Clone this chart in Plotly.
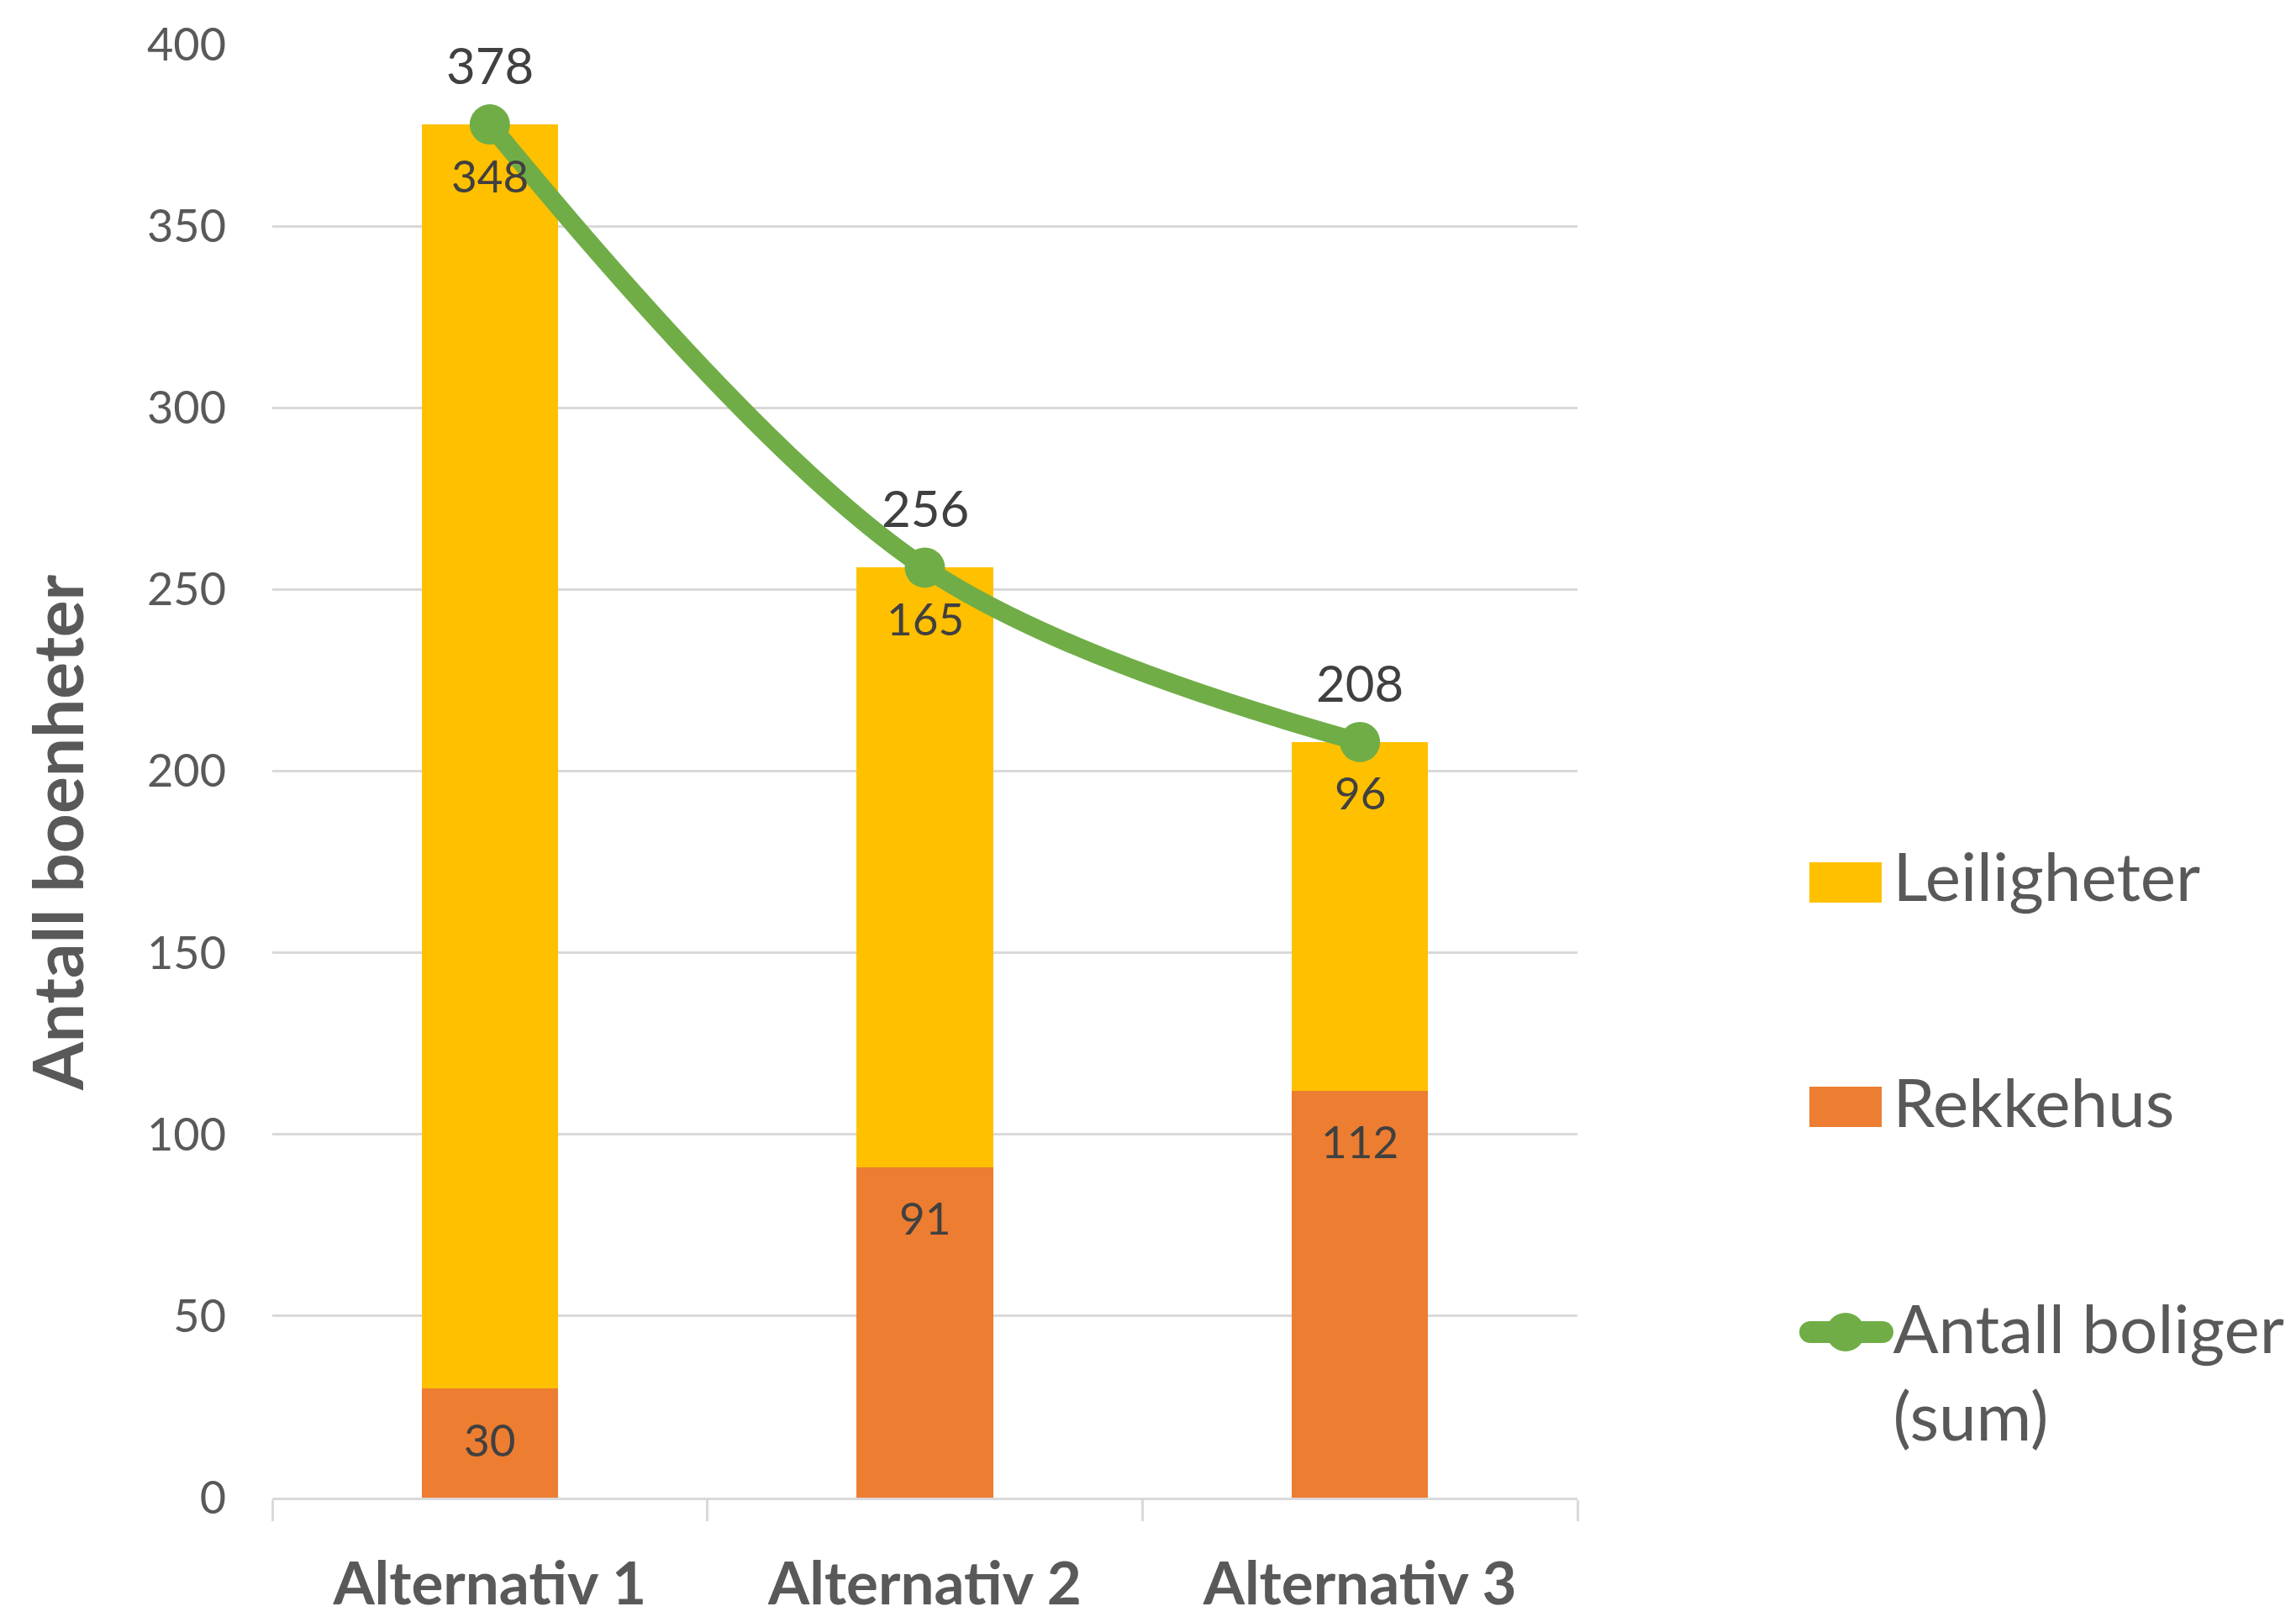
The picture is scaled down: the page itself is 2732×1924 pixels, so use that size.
import plotly.graph_objects as go

# ---- data ----
categories = ["Alternativ 1", "Alternativ 2", "Alternativ 3"]
rekkehus = [30, 91, 112]
leiligheter = [348, 165, 96]
antall_boliger = [378, 256, 208]
y_ticks = [0, 50, 100, 150, 200, 250, 300, 350, 400]
y_title = "Antall boenheter"

FONT = "Lato, Carlito, Calibri, sans-serif"
C_LEIL = "#FFC000"
C_REKK = "#ED7D31"
C_SUM = "#70AD47"

# page body adds an 8px offset, so the figure is sized to fit the window
OFF = 8
W, H = 2732 - OFF, 1924 - OFF
ML, MR, MT, MB = 324 - OFF, 855, 53 - OFF, 142
PW = W - ML - MR
PH = H - MT - MB


def px(X):  # absolute page x pixel -> paper x
    return (X - OFF - ML) / PW


def py(Y):  # absolute page y pixel -> paper y
    return (H - MB - (Y - OFF)) / PH


fig = go.Figure()
fig.add_trace(go.Bar(
    name="Rekkehus", x=categories, y=rekkehus, width=0.313,
    marker=dict(color=C_REKK, line=dict(width=0)),
    legendgroup="r", legendrank=2, hoverinfo="skip",
))
fig.add_trace(go.Bar(
    name="Leiligheter", x=categories, y=leiligheter, width=0.313,
    marker=dict(color=C_LEIL, line=dict(width=0)),
    legendgroup="l", legendrank=1, hoverinfo="skip",
))
fig.add_trace(go.Scatter(
    name="Antall boliger<br>(sum)", x=categories, y=antall_boliger,
    mode="lines+markers",
    line=dict(color=C_SUM, width=22, shape="spline", smoothing=1),
    marker=dict(color=C_SUM, size=48),
    legendgroup="s", legendrank=3, hoverinfo="skip",
))

annotations = []
lab_font_small = dict(family=FONT, size=53, color="#404040")
lab_font_big = dict(family=FONT, size=60, color="#404040")
for c, r, l, t in zip(categories, rekkehus, leiligheter, antall_boliger):
    annotations.append(dict(x=c, y=t, text=str(t), showarrow=False, yshift=71,
                            xref="x", yref="y", font=lab_font_big))
    annotations.append(dict(x=c, y=r + l, text=str(l), showarrow=False, yshift=-60,
                            xref="x", yref="y", font=lab_font_small))
    annotations.append(dict(x=c, y=r, text=str(r), showarrow=False, yshift=-60,
                            xref="x", yref="y", font=lab_font_small))

# y-axis title (placed lower than the plot-area middle, as in the reference)
annotations.append(dict(
    text=y_title, xref="paper", yref="paper", x=px(67), y=py(991),
    xanchor="center", yanchor="middle", textangle=-90, showarrow=False,
    font=dict(family=FONT, size=82, color="#595959", weight="bold"),
))

# enlarged legend swatches (the legend's own small symbols sit inside them)
shapes = []
for color, yc in [(C_LEIL, 1050), (C_REKK, 1317)]:
    shapes.append(dict(type="rect", xref="paper", yref="paper", layer="above",
                       x0=px(2153), x1=px(2239), y0=py(yc + 24), y1=py(yc - 24),
                       fillcolor=color, line=dict(width=0)))
yl = 1585
shapes.append(dict(type="line", xref="paper", yref="paper", layer="above",
                   x0=px(2154), x1=px(2240), y0=py(yl), y1=py(yl),
                   line=dict(color=C_SUM, width=26)))
for xc, rad in [(2154, 13), (2240, 13), (2196, 23)]:
    shapes.append(dict(type="circle", xref="paper", yref="paper", layer="above",
                       x0=px(xc - rad), x1=px(xc + rad), y0=py(yl + rad), y1=py(yl - rad),
                       fillcolor=C_SUM, line=dict(width=0)))

fig.update_layout(
    width=W, height=H,
    margin=dict(l=ML, r=MR, t=MT, b=MB, autoexpand=False),
    paper_bgcolor="white", plot_bgcolor="white",
    barmode="stack",
    font=dict(family=FONT, color="#595959"),
    showlegend=True,
    legend=dict(
        x=1.1774, xanchor="left", y=0.4625, yanchor="top",
        traceorder="grouped", tracegroupgap=162, itemwidth=90, valign="top",
        font=dict(family=FONT, size=80, color="#595959"),
        bgcolor="rgba(0,0,0,0)",
    ),
    xaxis=dict(
        type="category", range=[-0.5, 2.5],
        showline=True, linecolor="#d9d9d9", linewidth=3,
        ticks="outside", tickson="boundaries", ticklen=25, tickwidth=3,
        tickcolor="#d9d9d9", showgrid=False,
        tickfont=dict(family=FONT, size=71, color="#595959", weight="bold"),
        ticklabelstandoff=39,
    ),
    yaxis=dict(
        range=[0, 400], tickvals=y_ticks,
        showgrid=True, gridcolor="#d9d9d9", gridwidth=3,
        zeroline=False, showline=False, ticks="",
        tickfont=dict(family=FONT, size=54, color="#595959"),
        ticklabelstandoff=54,
    ),
    annotations=annotations,
    shapes=shapes,
)

fig.write_html("out.html")
